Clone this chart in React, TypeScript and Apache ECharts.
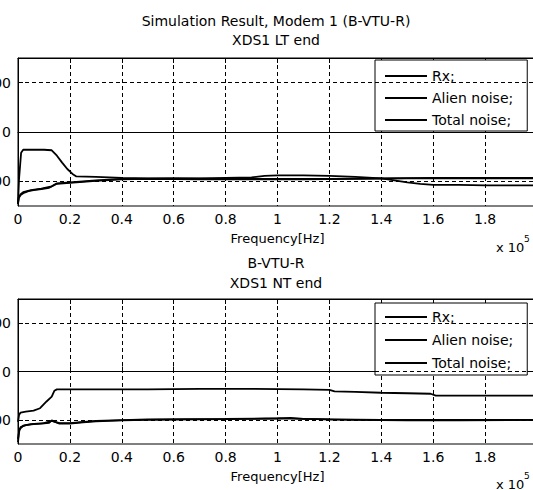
import React, { useEffect, useRef } from "react";
import * as echarts from "echarts";

// ---- data (frequency in units of 1e5 Hz, level in dB) ----
const xTicks = [0, 0.2, 0.4, 0.6, 0.8, 1, 1.2, 1.4, 1.6, 1.8, 2];
const yTicks = [-100, 0, 100];
const legendNames = ["Rx;", "Alien noise;", "Total noise;"];

const topRxFreq = [0, 0.004, 0.012, 0.02, 0.06, 0.1, 0.13, 0.15, 0.17, 0.19, 0.21, 0.225, 0.3, 0.4, 0.5, 0.6, 0.7, 0.8, 0.9, 0.95, 1.0, 1.1, 1.2, 1.3, 1.4, 1.45, 1.5, 1.55, 1.6, 1.7, 1.8, 1.9, 2.0];
const topRxVal = [-146, -95, -42, -36, -36, -36, -37, -48, -62, -75, -85, -90, -91, -93, -94, -94, -94, -93, -92, -89, -88, -88, -89, -91, -94, -98, -102, -105, -107, -107, -108, -108, -108];

const topAlienFreq = [0, 0.003, 0.01, 0.02, 0.04, 0.06, 0.09, 0.12, 0.135, 0.15, 0.2, 0.25, 0.3, 0.4, 0.5, 0.7, 0.9, 1.1, 1.3, 1.5, 1.7, 2.0];
const topAlienVal = [-146, -134, -128, -124, -120, -118, -116, -113, -109, -105, -103, -101, -99, -96, -95, -96, -96, -96, -95, -94, -94, -94];

const topTotalFreq = [0, 0.003, 0.01, 0.02, 0.05, 0.09, 0.13, 0.15, 0.2, 0.3, 0.4, 0.6, 0.8, 1.0, 1.2, 1.4, 1.6, 1.8, 2.0];
const topTotalVal = [-144, -132, -126, -122, -118, -115, -110, -104, -102, -98, -95, -94, -95, -95, -95, -94, -93, -93, -93];

const botRxFreq = [0, 0.004, 0.01, 0.03, 0.06, 0.085, 0.11, 0.13, 0.14, 0.15, 0.3, 0.5, 0.7, 0.9, 1.1, 1.2, 1.22, 1.3, 1.4, 1.5, 1.59, 1.61, 1.8, 2.0];
const botRxVal = [-104, -90, -85, -83, -81, -76, -62, -52, -40, -37, -37, -37, -36, -36, -37, -38, -41, -42, -44, -45, -46, -50, -50, -50];

const botAlienFreq = [0, 0.004, 0.01, 0.03, 0.06, 0.09, 0.12, 0.13, 0.14, 0.16, 0.2, 0.25, 0.3, 0.4, 0.5, 0.7, 0.9, 1.0, 1.05, 1.1, 1.2, 1.3, 1.5, 1.7, 2.0];
const botAlienVal = [-146, -125, -115, -111, -109, -108, -106, -101, -104, -108, -108, -105, -103, -101, -100, -99, -98, -97, -96, -98, -99, -100, -101, -101, -100];

const botTotalFreq = [0, 0.005, 0.02, 0.05, 0.1, 0.13, 0.16, 0.2, 0.3, 0.5, 0.8, 1.0, 1.2, 1.4, 1.7, 2.0];
const botTotalVal = [-140, -120, -112, -109, -107, -102, -107, -107, -102, -99, -98, -97, -99, -100, -100, -100];

const FONT = "DejaVu Sans";

const zip = (xs: number[], ys: number[]) => xs.map((x, i) => [x, ys[i]]);

function makeSeries(name: string, xs: number[], ys: number[], idx: number, withGrid: boolean) {
  const s: any = {
    name,
    type: "line",
    xAxisIndex: idx,
    yAxisIndex: idx,
    data: zip(xs, ys),
    symbol: "none",
    lineStyle: { color: "#000", width: 1.8 },
    itemStyle: { color: "#000" },
  };
  if (withGrid) {
    s.markLine = {
      silent: true,
      symbol: ["none", "none"],
      label: { show: false },
      lineStyle: { color: "#000", type: [4, 3], width: 1 },
      data: yTicks.map((v) => ({ yAxis: v })),
    };
  }
  return s;
}

function bottomX(gridIndex: number) {
  return {
    type: "value",
    gridIndex,
    min: xTicks[0],
    max: xTicks[xTicks.length - 1],
    interval: 0.2,
    name: "Frequency[Hz]",
    nameLocation: "middle",
    nameGap: 26,
    nameTextStyle: { color: "#000", fontFamily: FONT, fontSize: 13 },
    axisLine: { show: true, lineStyle: { color: "#000", width: 1 } },
    axisTick: { show: true, inside: true, length: 5, lineStyle: { color: "#000" } },
    axisLabel: { color: "#000", fontFamily: FONT, fontSize: 14, margin: 6, showMaxLabel: true, hideOverlap: false },
    splitLine: { show: true, lineStyle: { color: "#000", type: [4, 3], width: 1 } },
  };
}

function topX(gridIndex: number) {
  return {
    type: "value",
    gridIndex,
    position: "top",
    min: xTicks[0],
    max: xTicks[xTicks.length - 1],
    interval: 0.2,
    axisLine: { show: true, lineStyle: { color: "#000", width: 1 } },
    axisTick: { show: true, inside: true, length: 5, lineStyle: { color: "#000" } },
    axisLabel: { show: false },
    splitLine: { show: false },
  };
}

function leftY(gridIndex: number) {
  return {
    type: "value",
    gridIndex,
    min: -150,
    max: 150,
    axisLine: { show: true, lineStyle: { color: "#000", width: 1 } },
    axisTick: { show: true, inside: true, length: 5, customValues: yTicks, lineStyle: { color: "#000" } },
    axisLabel: { color: "#000", fontFamily: FONT, fontSize: 14, margin: 7, customValues: yTicks, hideOverlap: false },
    splitLine: { show: false },
  };
}

export default function App() {
  const ref = useRef<HTMLDivElement>(null);
  useEffect(() => {
    if (!ref.current) return;
    const chart = echarts.init(ref.current, null, { renderer: "svg" });
    const legendCommon = {
      orient: "vertical",
      left: 375,
      icon: "rect",
      itemWidth: 42,
      itemHeight: 2,
      borderColor: "#000",
      borderWidth: 1,
      borderRadius: 0,
      backgroundColor: "#fff",
      textStyle: { color: "#000", fontFamily: FONT, fontSize: 14, lineHeight: 16 },
      data: legendNames,
      selectedMode: false,
    };
    const gridCommon = {
      left: 18,
      right: -4,
      show: true,
      borderColor: "#000",
      borderWidth: 1,
      backgroundColor: "transparent",
      containLabel: false,
      outerBoundsMode: "none",
    };
    chart.setOption({
      animation: false,
      backgroundColor: "#fff",
      textStyle: { fontFamily: FONT },
      grid: [
        { ...gridCommon, top: 58, height: 148 },
        { ...gridCommon, top: 299, height: 145 },
      ],
      xAxis: [bottomX(0), bottomX(1), topX(0), topX(1)],
      yAxis: [leftY(0), leftY(1)],
      legend: [
        { ...legendCommon, top: 60, itemGap: 6, padding: [8, 14, 3, 10] },
        { ...legendCommon, top: 303, itemGap: 7, padding: [6, 14, 4, 10] },
      ],
      graphic: [
        { type: "text", x: 276, y: 21, style: { text: "Simulation Result, Modem 1 (B-VTU-R)", fill: "#000", font: `14px '${FONT}'`, align: "center", verticalAlign: "middle" } },
        { type: "text", x: 276, y: 40, style: { text: "XDS1 LT end", fill: "#000", font: `14px '${FONT}'`, align: "center", verticalAlign: "middle" } },
        { type: "text", x: 276, y: 263, style: { text: "B-VTU-R", fill: "#000", font: `14px '${FONT}'`, align: "center", verticalAlign: "middle" } },
        { type: "text", x: 276, y: 283, style: { text: "XDS1 NT end", fill: "#000", font: `14px '${FONT}'`, align: "center", verticalAlign: "middle" } },
        { type: "text", x: 496, y: 247, style: { text: "x 10", fill: "#000", font: `13px '${FONT}'`, verticalAlign: "middle" } },
        { type: "text", x: 524, y: 239, style: { text: "5", fill: "#000", font: `9px '${FONT}'`, verticalAlign: "middle" } },
        { type: "text", x: 496, y: 484, style: { text: "x 10", fill: "#000", font: `13px '${FONT}'`, verticalAlign: "middle" } },
        { type: "text", x: 524, y: 476, style: { text: "5", fill: "#000", font: `9px '${FONT}'`, verticalAlign: "middle" } },
      ],
      series: [
        makeSeries(legendNames[0], topRxFreq, topRxVal, 0, true),
        makeSeries(legendNames[1], topAlienFreq, topAlienVal, 0, false),
        makeSeries(legendNames[2], topTotalFreq, topTotalVal, 0, false),
        makeSeries(legendNames[0], botRxFreq, botRxVal, 1, true),
        makeSeries(legendNames[1], botAlienFreq, botAlienVal, 1, false),
        makeSeries(legendNames[2], botTotalFreq, botTotalVal, 1, false),
      ],
    });
    return () => chart.dispose();
  }, []);
  return <div ref={ref} style={{ width: 533, height: 490, position: "absolute", left: 0, top: 0 }} />;
}
